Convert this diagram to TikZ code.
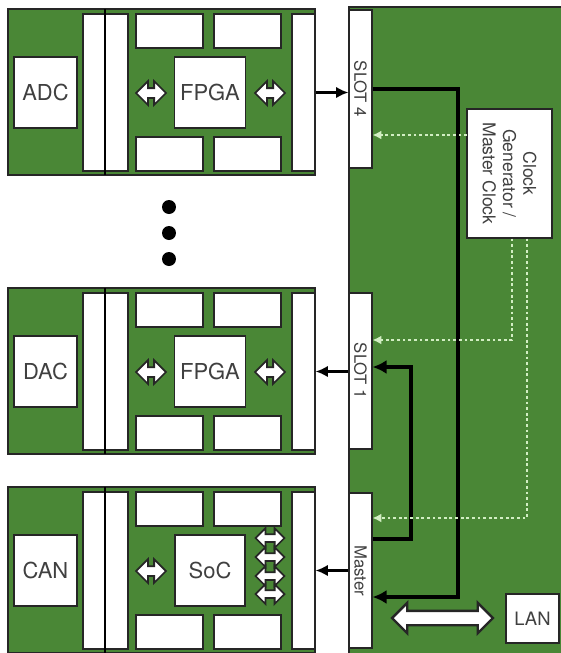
\documentclass[tikz,border=0pt]{standalone}
\usepackage{fontspec}
\setmainfont{TeX Gyre Heros}
\usetikzlibrary{arrows.meta,shapes.arrows}
\definecolor{pcb}{RGB}{74,135,54}
\definecolor{clkline}{RGB}{210,238,195}
\tikzset{
  board/.style={draw=black!85,fill=pcb,line width=0.7pt},
  part/.style={draw=black!85,fill=white,line width=0.6pt},
  chip/.style={part,minimum width=1.4cm,minimum height=1.42cm,text=black!75,font=\fontsize{12.5}{14}\selectfont},
  iobox/.style={chip,line width=1.2pt,minimum width=1.26cm},
  strip/.style={part,minimum width=0.46cm,minimum height=3.14cm},
  slotbox/.style={part,minimum width=0.46cm},
  slottext/.style={rotate=-90,text=black!75,font=\fontsize{9.5}{11}\selectfont},
  twoway/.style={double arrow,draw=black!85,fill=white,line width=1pt,minimum height=0.6cm,inner sep=0.08cm,double arrow head extend=0.14cm,double arrow head indent=0cm},
  link/.style={line width=1.4pt,-{Latex[length=7pt,width=6.5pt]}},
  bus/.style={line width=2pt,-{Latex[length=8pt,width=8pt]}},
  clk/.style={clkline,line width=0.9pt,dash pattern=on 1.6pt off 1.6pt,-{Latex[length=5pt,width=5pt]}}
}
\begin{document}
\begin{tikzpicture}[x=0.02cm,y=-0.02cm]
\useasboundingbox (0,0) rectangle (561,653);
\foreach \t/\io/\cpu/\n in {9/ADC/FPGA/4,288/DAC/FPGA/1,487/CAN/SoC/0}{
  \draw[board] (8,\t) rectangle (315,\t+166);
  \draw[part] (83,\t+5) rectangle (128,\t+162);
  \draw[line width=0.7pt] (105,\t) -- (105,\t+166);
  \draw[part] (136,\t+5) rectangle (203,\t+39) (214,\t+5) rectangle (281,\t+39);
  \draw[part] (136,\t+128) rectangle (203,\t+162) (214,\t+128) rectangle (281,\t+162);
  \node[iobox] (io\n) at (45.5,\t+83.5) {\io};
  \node[chip] (cpu\n) at (210,\t+83.5) {\cpu};
  \node[strip] (edge\n) at (303.5,\t+83.5) {};
  \node[twoway] at (151,\t+84) {};
}
\node[twoway] at (270,93) {};
\node[twoway] at (270,372) {};
\foreach \y in {538,557,576,594}
  \node[twoway,minimum height=0.58cm,inner sep=0.06cm,double arrow head extend=0.12cm] at (270,\y) {};
\foreach \y in {207,233,259}
  \fill (169,\y) circle (0.14cm);

\draw[board] (349,7) rectangle (567,659);
\node[slotbox,minimum height=3.16cm] (slot4) at (360.5,89) {};
\node[slotbox,minimum height=3.12cm] (slot1) at (360.5,371) {};
\node[slotbox,minimum height=3.1cm] (master) at (360.5,570.5) {};
\node[slottext] at (slot4) {SLOT 4};
\node[slottext] at (slot1) {SLOT 1};
\node[slottext] at (master) {Master};
\node[part,minimum width=1.7cm,minimum height=2.58cm] (clock) at (509.5,173.5) {};
\node[rotate=-90,align=center,text=black!75,font=\fontsize{10}{11.5}\selectfont] at (clock) {Clock\\Generator /\\Master Clock};
\node[part,minimum width=1.06cm,minimum height=0.98cm,text=black!75,font=\fontsize{10.5}{12}\selectfont] (lan) at (532.5,618.5) {LAN};
\node[twoway,line width=1.4pt,minimum height=2.02cm,inner sep=0.12cm,double arrow head extend=0.16cm] (lanlink) at (442.5,618) {};

\draw[link] (edge4.east) -- (edge4.east -| slot4.west);
\draw[link] (slot1.west |- edge1.east) -- (edge1.east);
\draw[link,{Latex[length=7pt,width=6.5pt]}-] (edge0.east) -- (edge0.east -| master.west);
\coordinate (busend) at (458,597);
\draw[bus] (slot4.east) -| (busend) -- (busend -| master.east);
\coordinate (loopbot) at (411,539);
\coordinate (looptop) at (411,367);
\draw[bus] (loopbot -| master.east) -- (loopbot) -- (looptop) -- (looptop -| slot1.east);
\coordinate (clk4) at (467,135);
\coordinate (clk1) at (512,340);
\coordinate (clk0) at (527,518);
\draw[clk] (clk4) -- (clk4 -| slot4.east);
\draw[clk] (clock.south -| clk1) -- (clk1) -- (clk1 -| slot1.east);
\draw[clk] (clock.south -| clk0) -- (clk0) -- (clk0 -| master.east);
\end{tikzpicture}
\end{document}
